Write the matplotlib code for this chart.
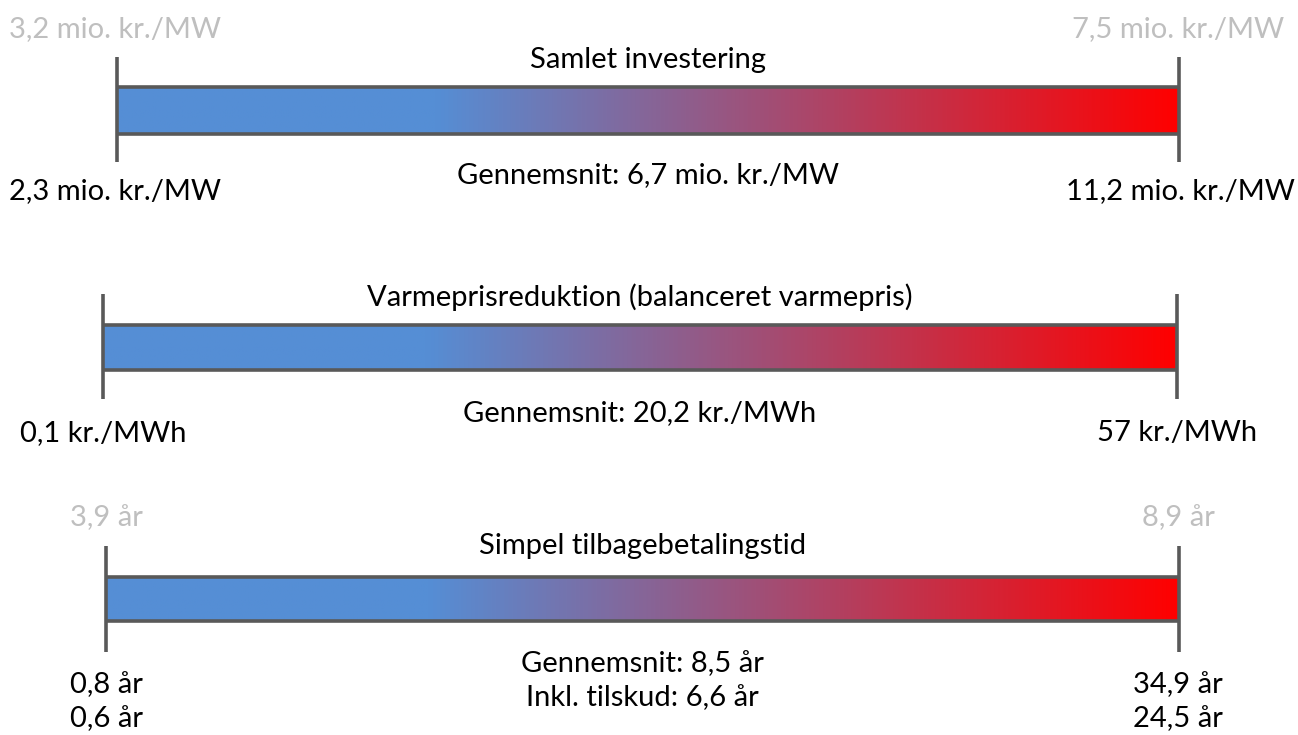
import numpy as np
import matplotlib
matplotlib.use("Agg")
import matplotlib.pyplot as plt
from matplotlib.colors import LinearSegmentedColormap

plt.rcParams['font.family'] = ['Lato', 'DejaVu Sans']

# Ranges shown as gradient bars
titles = ["Samlet investering",
          "Varmeprisreduktion (balanceret varmepris)",
          "Simpel tilbagebetalingstid"]
min_labels = ["2,3 mio. kr./MW", "0,1 kr./MWh", "0,8 år\n0,6 år"]
max_labels = ["11,2 mio. kr./MW", "57 kr./MWh", "34,9 år\n24,5 år"]
avg_labels = ["Gennemsnit: 6,7 mio. kr./MW",
              "Gennemsnit: 20,2 kr./MWh",
              "Gennemsnit: 8,5 år\nInkl. tilskud: 6,6 år"]
# Secondary (grey) values above the bar ends
alt_min_labels = ["3,2 mio. kr./MW", "", "3,9 år"]
alt_max_labels = ["7,5 mio. kr./MW", "", "8,9 år"]

W, H = 1298, 735
fig = plt.figure(figsize=(W / 100, H / 100), dpi=100)
ax = fig.add_axes([0, 0, 1, 1])
ax.set_xlim(0, W)
ax.set_ylim(H, 0)
ax.axis("off")

cmap = LinearSegmentedColormap.from_list(
    "bluered", [(0.0, "#558ed5"), (0.30, "#558ed5"), (1.0, "#ff0000")])
grad = np.linspace(0, 1, 512).reshape(1, -1)

edge = "#595959"
fs = 21
grey = "#bfbfbf"

# layout per bar: end positions, bar edges, end-tick extent, label rows
layout = [
    dict(x0=117, x1=1179, top=87, bot=134, ttop=57, tbot=162,
         title_y=60, avg_y=175, lab_y=191, lmin_x=115, lmax_x=1180, alt_y=29,
         alt_min_x=115, alt_max_x=1178),
    dict(x0=103, x1=1177, top=325, bot=370, ttop=294, tbot=399,
         title_y=297, avg_y=413, lab_y=433, lmin_x=103, lmax_x=1177, alt_y=0,
         alt_min_x=0, alt_max_x=0),
    dict(x0=106, x1=1179, top=577, bot=621, ttop=546, tbot=652,
         title_y=546, avg_y=681, lab_y=702, lmin_x=106, lmax_x=1178, alt_y=518,
         alt_min_x=106, alt_max_x=1178),
]

for i, L in enumerate(layout):
    ax.imshow(grad, cmap=cmap, aspect="auto",
              extent=(L["x0"], L["x1"], L["bot"], L["top"]), zorder=1)
    ax.plot([L["x0"], L["x1"]], [L["top"], L["top"]], color=edge, lw=2.6,
            solid_capstyle="butt", zorder=2)
    ax.plot([L["x0"], L["x1"]], [L["bot"], L["bot"]], color=edge, lw=2.6,
            solid_capstyle="butt", zorder=2)
    for x in (L["x0"], L["x1"]):
        ax.plot([x, x], [L["ttop"], L["tbot"]], color=edge, lw=2.6,
                solid_capstyle="butt", zorder=3)

    cx = (L["x0"] + L["x1"]) / 2
    ax.text(cx, L["title_y"], titles[i], ha="center", va="center", fontsize=fs,
            color="black")
    ax.text(cx, L["avg_y"], avg_labels[i], ha="center", va="center",
            fontsize=fs, color="black", linespacing=1.4)
    ax.text(L["lmin_x"], L["lab_y"], min_labels[i], ha="center", va="center",
            fontsize=fs, color="black", linespacing=1.4)
    ax.text(L["lmax_x"], L["lab_y"], max_labels[i], ha="center", va="center",
            fontsize=fs, color="black", linespacing=1.4)
    if alt_min_labels[i]:
        ax.text(L["alt_min_x"], L["alt_y"], alt_min_labels[i], ha="center",
                va="center", fontsize=fs, color=grey)
        ax.text(L["alt_max_x"], L["alt_y"], alt_max_labels[i], ha="center",
                va="center", fontsize=fs, color=grey)

fig.savefig("out.png", dpi=100, facecolor="white")
